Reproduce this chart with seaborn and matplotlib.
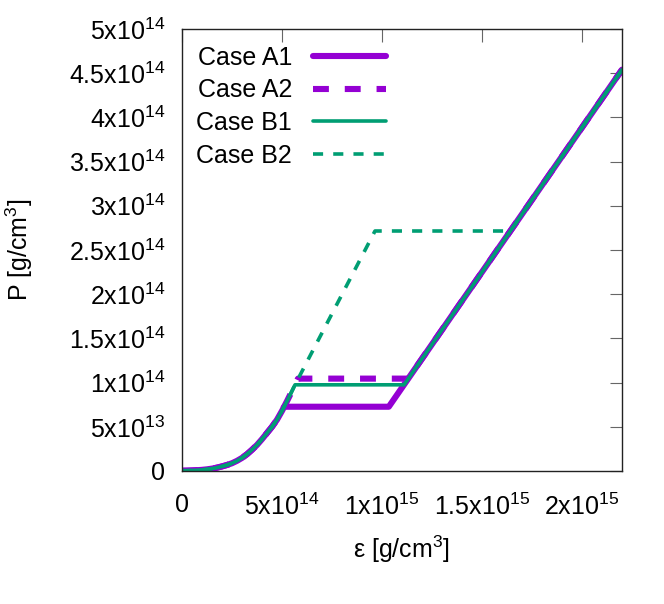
import numpy as np
import pandas as pd
import seaborn as sns
import matplotlib
matplotlib.use("Agg")
import matplotlib.pyplot as plt

sns.set_style("white")
plt.rcParams["font.family"] = ["Liberation Sans", "DejaVu Sans"]
plt.rcParams["mathtext.default"] = "regular"
plt.rcParams["text.color"] = "black"

# energy density / pressure in units of 1e14 g/cm^3 (shared hadronic branch)
eps_low = [0.0, 0.25, 0.5, 0.75, 1.0, 1.25, 1.5, 1.75, 2.0, 2.25, 2.5, 2.75,
           3.0, 3.25, 3.5, 3.75, 4.0, 4.25, 4.5, 4.75, 5.0, 5.25, 5.5, 5.65]
p_low = [0.003, 0.004, 0.006, 0.009, 0.013, 0.019, 0.027, 0.038, 0.052, 0.068,
         0.088, 0.115, 0.148, 0.19, 0.24, 0.295, 0.36, 0.43, 0.50, 0.58,
         0.68, 0.79, 0.905, 0.975]

# vertices from the onset of the transition onwards, per case
eps_a1 = [5.11, 10.34, 22.0]
p_a1 = [0.727, 0.727, 4.54]
eps_a2 = [5.8, 11.31, 22.0]
p_a2 = [1.045, 1.045, 4.54]
eps_b1 = [5.65, 11.1, 22.0]
p_b1 = [0.975, 0.975, 4.54]
eps_b2 = [5.65, 9.65, 16.42, 22.0]
p_b2 = [0.975, 2.715, 2.715, 4.54]

cases = ["Case A1", "Case A2", "Case B1", "Case B2"]
tail_eps = [eps_a1, eps_a2, eps_b1, eps_b2]
tail_p = [p_a1, p_a2, p_b1, p_b2]

colors = ["#9400D3", "#9400D3", "#009E73", "#009E73"]
widths = [4.4, 4.4, 2.6, 2.6]
styles = ["-", (0, (2.6, 2.6)), "-", (0, (2.8, 2.8))]

fig = plt.figure(figsize=(6.64, 6.04), dpi=100)
ax = fig.add_axes([182 / 664, 1 - 471 / 604, 440 / 664, 442 / 604])

for name, te, tp, c, w, ls in zip(cases, tail_eps, tail_p, colors, widths, styles):
    e = [v for v in eps_low if v < te[0]] + te
    p = p_low[:len(e) - len(te)] + tp
    df = pd.DataFrame({"eps": np.array(e) * 1e14, "P": np.array(p) * 1e14})
    sns.lineplot(data=df, x="eps", y="P", sort=False, estimator=None,
                 color=c, linewidth=w, linestyle=ls, label=name, ax=ax)

ax.set_xlim(0, 2.2e15)
ax.set_ylim(0, 5e14)

xticks = [0, 5e14, 1e15, 1.5e15, 2e15]
xlabels = ["0", "5x10$^{14}$", "1x10$^{15}$", "1.5x10$^{15}$", "2x10$^{15}$"]
yticks = [0, 5e13, 1e14, 1.5e14, 2e14, 2.5e14, 3e14, 3.5e14, 4e14, 4.5e14, 5e14]
ylabels = ["0", "5x10$^{13}$", "1x10$^{14}$", "1.5x10$^{14}$", "2x10$^{14}$",
           "2.5x10$^{14}$", "3x10$^{14}$", "3.5x10$^{14}$", "4x10$^{14}$",
           "4.5x10$^{14}$", "5x10$^{14}$"]
ax.set_xticks(xticks)
ax.set_xticklabels(xlabels)
ax.set_yticks(yticks)
ax.set_yticklabels(ylabels)
ax.tick_params(direction="in", length=9, width=0.8, color="#666666",
               top=True, right=True, labelsize=18, labelcolor="black")
ax.tick_params(axis="x", pad=16)
ax.tick_params(axis="y", pad=12)

for s in ax.spines.values():
    s.set_color("#222222")
    s.set_linewidth(1.0)

ax.set_xlabel("ε [g/cm$^3$]", fontsize=18, labelpad=10, color="black")
ax.set_ylabel("P [g/cm$^3$]", fontsize=18, color="black")
ax.yaxis.set_label_coords(-0.335, 0.5)

ax.legend(loc="upper left", frameon=False, markerfirst=False, fontsize=18,
          handlelength=2.9, handletextpad=0.85, labelspacing=0.35,
          borderaxespad=0.0, bbox_to_anchor=(0.01, 0.985))

fig.savefig("out.png", dpi=100)
